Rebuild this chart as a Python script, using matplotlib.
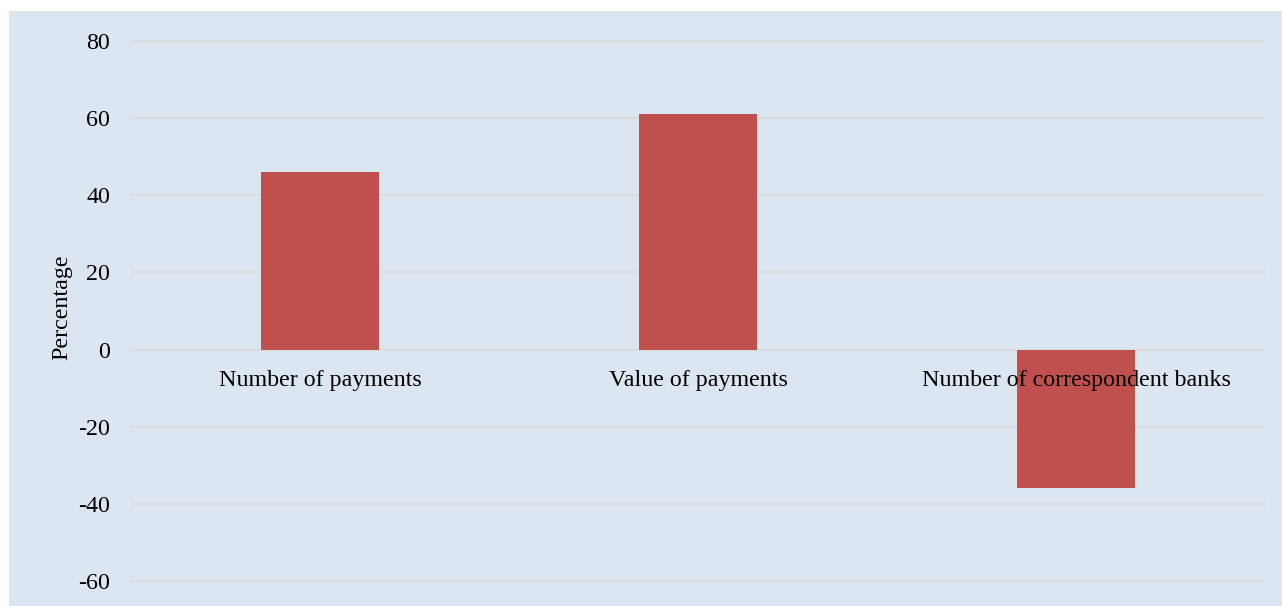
import matplotlib
matplotlib.use("Agg")
import matplotlib.pyplot as plt
from matplotlib.patches import Rectangle

categories = ["Number of payments", "Value of payments", "Number of correspondent banks"]
values = [46, 61, -36]
yticks = [-60, -40, -20, 0, 20, 40, 60, 80]

bg = "#DCE6F1"
bar_color = "#C0504D"
grid_color = "#D9D9D9"
fs = 17.3

plt.rcParams['font.family'] = ['Liberation Serif', 'DejaVu Serif']

fig = plt.figure(figsize=(12.82, 6.06), dpi=100)
fig.patches.append(Rectangle((9 / 1282, 0), 1 - 9 / 1282, 1 - 11 / 606,
                             transform=fig.transFigure, facecolor=bg,
                             edgecolor='none', zorder=-10))

ax = fig.add_axes([131 / 1282, 1 - 600.3 / 606, (1265 - 131) / 1282, (600.3 - 14) / 606])
ax.set_facecolor(bg)
ax.patch.set_alpha(0)

x = list(range(len(categories)))
ax.bar(x, values, width=0.31, color=bar_color, zorder=3)

ax.set_xlim(-0.5, 2.5)
ax.set_ylim(-65, 87)
for s in ['top', 'right', 'left']:
    ax.spines[s].set_visible(False)
ax.spines['bottom'].set_position(('data', 0))
ax.spines['bottom'].set_visible(False)

ax.set_yticks(yticks)
ax.set_yticklabels([str(v) for v in yticks])
ax.yaxis.grid(True, color=grid_color, linewidth=1.3, zorder=0)
ax.set_axisbelow(True)

ax.set_xticks(x)
ax.set_xticklabels(categories)
ax.tick_params(axis='x', length=0, pad=14.5, labelsize=fs)
ax.tick_params(axis='y', length=0, pad=15, labelsize=fs)
ax.xaxis.set_zorder(5)

ax.set_ylabel("Percentage", fontsize=fs, labelpad=4)

fig.savefig("out.png", dpi=100)
